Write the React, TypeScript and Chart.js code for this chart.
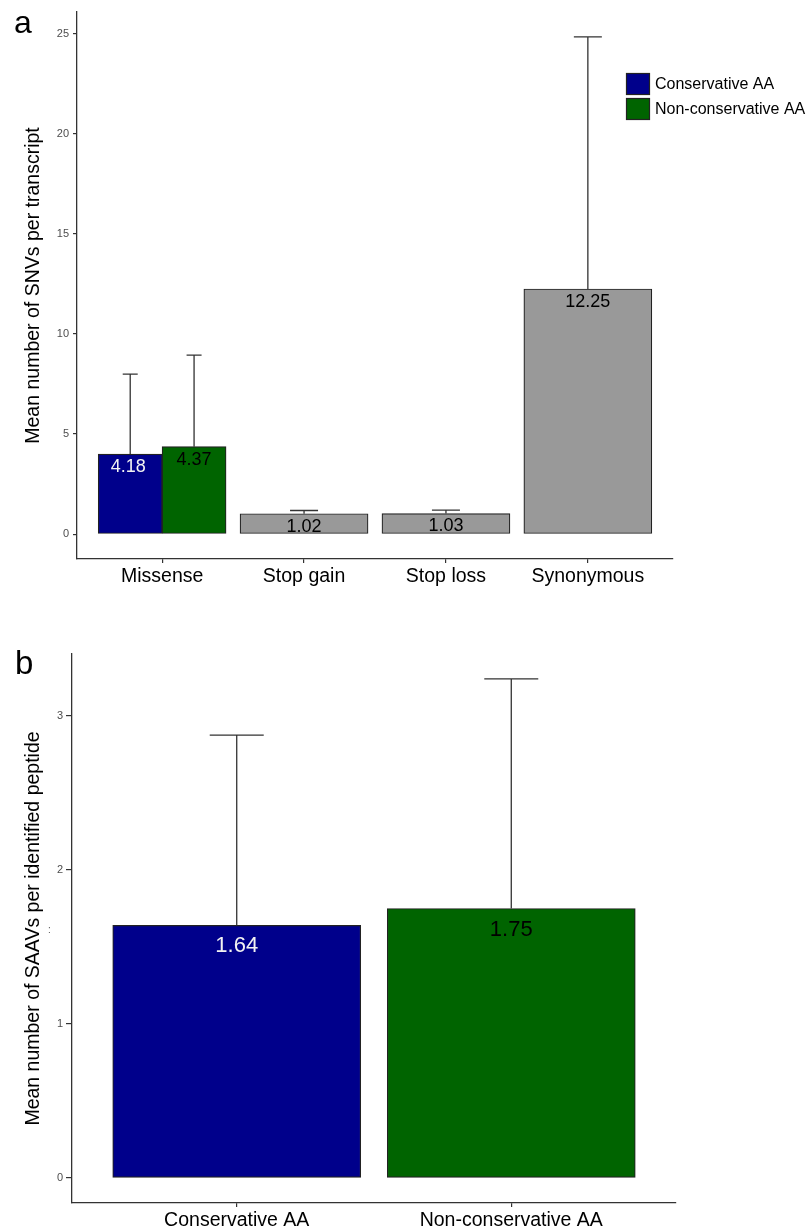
import React, { useEffect, useRef } from "react";
import { Chart, registerables } from "chart.js";

Chart.register(...registerables);

const FONT = '"Liberation Sans", Arial, Helvetica, sans-serif';

// ---------- Panel a data ----------
const aCategories = ["Missense", "Stop gain", "Stop loss", "Synonymous"];
const aCategoryPositions = [1, 2, 3, 4];
const aYTicks = [0, 5, 10, 15, 20, 25];
const aSeriesNames = ["Conservative AA", "Non-conservative AA"];
const aConservativeMean = [4.0];
const aConservativeUpper = [8.0];
const aConservativeLabels = ["4.18"];
const aNonConservativeMean = [4.37];
const aNonConservativeUpper = [8.95];
const aNonConservativeLabels = ["4.37"];
const aOtherCategoryIndex = [1, 2, 3];
const aOtherMean = [1.02, 1.03, 12.25];
const aOtherUpper = [1.18, 1.2, 24.85];
const aOtherLabels = ["1.02", "1.03", "12.25"];
const aYTitle = "Mean number of SNVs per transcript";

// ---------- Panel b data ----------
const bCategories = ["Conservative AA", "Non-conservative AA"];
const bCategoryPositions = [1, 2];
const bYTicks = [0, 1, 2, 3];
const bMean = [1.64, 1.75];
const bUpper = [2.875, 3.24];
const bLabels = ["1.64", "1.75"];
const bYTitle = "Mean number of SAAVs per identified peptide";

const BLUE = "#00008B";
const GREEN = "#006400";
const GRAY = "#999999";
const EDGE = "#222222";
const AXIS = "#333333";

const DODGE = 0.45; // half of the dodge group width (0.9 / 2)

const barExtrasPlugin = {
  id: "barExtras",
  afterDatasetsDraw(chart: any) {
    const ctx = chart.ctx;
    const yScale = chart.scales.y;
    chart.data.datasets.forEach((ds: any, di: number) => {
      const meta = chart.getDatasetMeta(di);
      meta.data.forEach((el: any, i: number) => {
        const upper = ds.errorUpper ? ds.errorUpper[i] : null;
        if (upper == null) return;
        const yTop = yScale.getPixelForValue(upper);
        const half = (ds.capWidth || 20) / 2;
        ctx.save();
        ctx.strokeStyle = AXIS;
        ctx.lineWidth = 1.3;
        ctx.beginPath();
        ctx.moveTo(el.x, el.y);
        ctx.lineTo(el.x, yTop);
        ctx.moveTo(el.x - half, yTop);
        ctx.lineTo(el.x + half, yTop);
        ctx.stroke();
        ctx.restore();
      });
    });
    chart.data.datasets.forEach((ds: any, di: number) => {
      const meta = chart.getDatasetMeta(di);
      meta.data.forEach((el: any, i: number) => {
        const txt = ds.valueLabels ? ds.valueLabels[i] : null;
        if (!txt) return;
        const c = Array.isArray(ds.valueLabelColors) ? ds.valueLabelColors[i] : ds.valueLabelColors;
        ctx.save();
        ctx.fillStyle = c || "#000";
        ctx.font = `${ds.valueLabelSize}px ${FONT}`;
        ctx.textAlign = "center";
        ctx.textBaseline = "middle";
        ctx.fillText(txt, el.x + (ds.valueLabelDx || 0), el.y + ds.valueLabelOffset);
        ctx.restore();
      });
    });
  },
};

const boxLegendPlugin = {
  id: "boxLegend",
  afterDraw(chart: any, _args: any, opts: any) {
    if (!opts || !opts.show) return;
    const ctx = chart.ctx;
    const items = chart.data.datasets.filter((d: any) => d.legendLabel);
    items.forEach((d: any, i: number) => {
      const y = opts.y + i * opts.step;
      ctx.save();
      ctx.fillStyle = d.backgroundColor;
      ctx.fillRect(opts.x, y, opts.boxW, opts.boxH);
      ctx.strokeStyle = EDGE;
      ctx.lineWidth = 1.2;
      ctx.strokeRect(opts.x + 0.5, y + 0.5, opts.boxW - 1, opts.boxH - 1);
      ctx.fillStyle = "#000";
      ctx.font = `${opts.size}px ${FONT}`;
      ctx.textAlign = "left";
      ctx.textBaseline = "middle";
      ctx.fillText(d.legendLabel, opts.textX, y + opts.boxH / 2 + 1);
      ctx.restore();
    });
  },
};

const panelTagPlugin = {
  id: "panelTag",
  afterDraw(chart: any, _args: any, opts: any) {
    if (!opts || !opts.texts) return;
    const ctx = chart.ctx;
    opts.texts.forEach((t: any) => {
      ctx.save();
      ctx.fillStyle = t.color || "#000";
      ctx.font = `${t.size}px ${FONT}`;
      ctx.textAlign = "left";
      ctx.textBaseline = "alphabetic";
      ctx.fillText(t.text, t.x, t.y);
      ctx.restore();
    });
  },
};

function xAxis(min: number, max: number, positions: number[], names: string[], height: number) {
  return {
    type: "linear",
    min,
    max,
    offset: false,
    afterBuildTicks: (s: any) => {
      s.ticks = positions.map((v) => ({ value: v }));
    },
    afterFit: (s: any) => {
      s.height = height;
    },
    ticks: {
      autoSkip: false,
      maxRotation: 0,
      padding: 2,
      color: "#000",
      font: { family: FONT, size: 19.5 },
      callback: (_v: any, i: number) => names[i],
    },
    grid: { display: true, offset: false, drawOnChartArea: false, drawTicks: true, tickLength: 4, color: AXIS, lineWidth: 1.2 },
    border: { display: true, color: AXIS, width: 1.3 },
  };
}

function yAxis(min: number, max: number, ticks: number[], width: number, title: string, tickLength: number, pad: number) {
  return {
    type: "linear",
    min,
    max,
    afterBuildTicks: (s: any) => {
      s.ticks = ticks.map((v) => ({ value: v }));
    },
    afterFit: (s: any) => {
      s.width = width;
    },
    ticks: {
      padding: pad,
      color: "#4D4D4D",
      font: { family: FONT, size: 11 },
      callback: (v: any) => String(v),
    },
    grid: { display: true, drawOnChartArea: false, drawTicks: true, tickLength, color: AXIS, lineWidth: 1.2 },
    border: { display: true, color: AXIS, width: 1.3 },
    title: {
      display: true,
      text: title,
      color: "#000",
      font: { family: FONT, size: 19.5 },
      padding: { top: 22, bottom: 0 },
    },
  };
}

function panelAConfig(): any {
  const consX = aCategoryPositions[0] - DODGE / 2;
  const nonX = aCategoryPositions[0] + DODGE / 2;
  return {
    type: "bar",
    data: {
      datasets: [
        {
          legendLabel: aSeriesNames[0],
          data: aConservativeMean.map((v) => ({ x: consX, y: v })),
          backgroundColor: BLUE,
          borderColor: EDGE,
          borderWidth: 1.2,
          borderSkipped: false,
          grouped: false,
          barThickness: 64,
          errorUpper: aConservativeUpper,
          capWidth: 15,
          valueLabels: aConservativeLabels,
          valueLabelColors: "#F2F2F2",
          valueLabelSize: 18,
          valueLabelOffset: 13,
          valueLabelDx: -2,
        },
        {
          legendLabel: aSeriesNames[1],
          data: aNonConservativeMean.map((v) => ({ x: nonX, y: v })),
          backgroundColor: GREEN,
          borderColor: EDGE,
          borderWidth: 1.2,
          borderSkipped: false,
          grouped: false,
          barThickness: 64,
          errorUpper: aNonConservativeUpper,
          capWidth: 15,
          valueLabels: aNonConservativeLabels,
          valueLabelColors: "#000",
          valueLabelSize: 18,
          valueLabelOffset: 13,
        },
        {
          data: aOtherMean.map((v, i) => ({ x: aCategoryPositions[aOtherCategoryIndex[i]], y: v })),
          backgroundColor: GRAY,
          borderColor: EDGE,
          borderWidth: 1.2,
          borderSkipped: false,
          grouped: false,
          barThickness: 128,
          errorUpper: aOtherUpper,
          capWidth: 28,
          valueLabels: aOtherLabels,
          valueLabelColors: "#000",
          valueLabelSize: 18,
          valueLabelOffset: 13,
        },
      ],
    },
    options: {
      animation: false,
      responsive: true,
      maintainAspectRatio: false,
      layout: { padding: { left: 0, right: 137, top: 12, bottom: 0 } },
      scales: {
        x: xAxis(0.4, 4.6, aCategoryPositions, aCategories, 46),
        y: yAxis(-1.2425, 26.0925, aYTicks, 77, aYTitle, 4, 4),
      },
      plugins: {
        legend: { display: false },
        tooltip: { enabled: false },
        boxLegend: { show: true, x: 626, y: 73, step: 25, boxW: 24, boxH: 22, textX: 655, size: 16 },
        panelTag: { texts: [{ text: "a", x: 14, y: 33, size: 32 }] },
      },
    },
    plugins: [barExtrasPlugin, boxLegendPlugin, panelTagPlugin],
  };
}

function panelBConfig(): any {
  return {
    type: "bar",
    data: {
      datasets: [
        {
          data: bMean.map((v, i) => ({ x: bCategoryPositions[i], y: v })),
          backgroundColor: [BLUE, GREEN],
          borderColor: EDGE,
          borderWidth: 1.2,
          borderSkipped: false,
          grouped: false,
          barThickness: 248,
          errorUpper: bUpper,
          capWidth: 54,
          valueLabels: bLabels,
          valueLabelColors: ["#F2F2F2", "#000"],
          valueLabelSize: 22,
          valueLabelOffset: 21,
        },
      ],
    },
    options: {
      animation: false,
      responsive: true,
      maintainAspectRatio: false,
      layout: { padding: { left: 0, right: 134, top: 44, bottom: 0 } },
      scales: {
        x: xAxis(0.4, 2.6, bCategoryPositions, bCategories, 27),
        y: yAxis(-0.162, 3.402, bYTicks, 72, bYTitle, 6, 3),
      },
      plugins: {
        legend: { display: false },
        tooltip: { enabled: false },
        boxLegend: { show: false },
        panelTag: {
          texts: [
            { text: "b", x: 15, y: 64, size: 33 },
            { text: ":", x: 48, y: 323, size: 10, color: "#555" },
          ],
        },
      },
    },
    plugins: [barExtrasPlugin, boxLegendPlugin, panelTagPlugin],
  };
}

function ChartCanvas({ makeConfig }: { makeConfig: () => any }) {
  const ref = useRef<HTMLCanvasElement | null>(null);
  useEffect(() => {
    if (!ref.current) return;
    const chart = new Chart(ref.current, makeConfig());
    return () => chart.destroy();
  }, [makeConfig]);
  return <canvas ref={ref} style={{ display: "block" }} />;
}

export default function App() {
  return (
    <div style={{ position: "absolute", left: 0, top: 0, width: 810, height: 1230, background: "#fff" }}>
      <div style={{ position: "absolute", left: 0, top: 0, width: 810, height: 605 }}>
        <ChartCanvas makeConfig={panelAConfig} />
      </div>
      <div style={{ position: "absolute", left: 0, top: 610, width: 810, height: 620 }}>
        <ChartCanvas makeConfig={panelBConfig} />
      </div>
    </div>
  );
}
